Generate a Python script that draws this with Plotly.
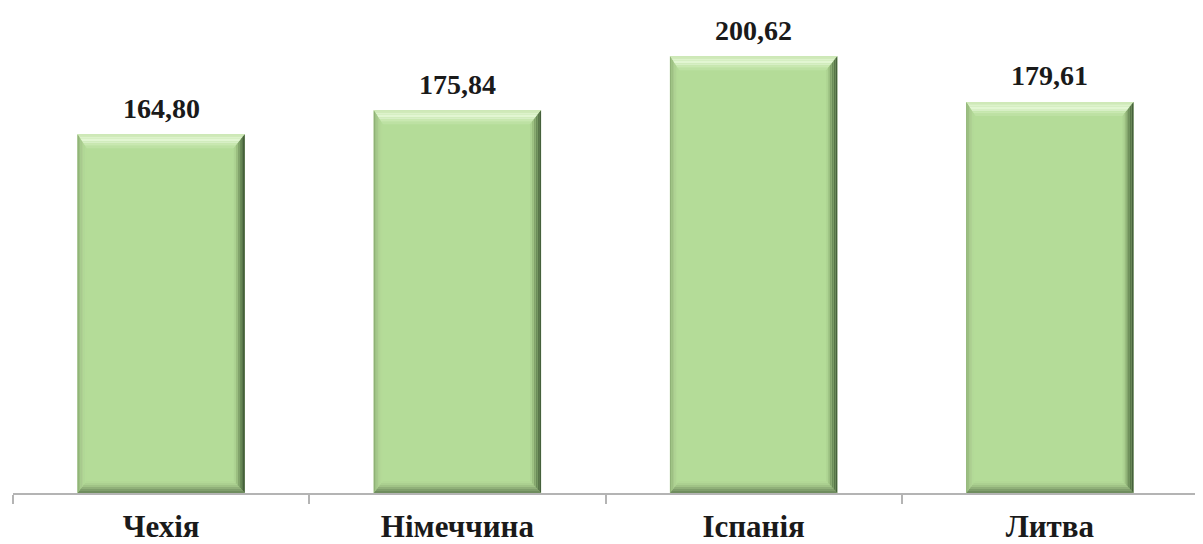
import plotly.graph_objects as go

categories = ["Чехія", "Німеччина", "Іспанія", "Литва"]
values = [164.80, 175.84, 200.62, 179.61]
value_labels = ["164,80", "175,84", "200,62", "179,61"]

# page has an 8px body margin: figure is sized to fit the 1203x544 window
W, H = 1195, 536
ML, MR, MT, MB = 5, 5, 6, 51
YMAX = 220
BAR_W = 0.565
plot_w = W - ML - MR
plot_h = H - MT - MB
px_x = plot_w / len(categories)   # pixels per x unit
px_y = plot_h / YMAX              # pixels per y unit

FACE = "#b4dc98"
TOP = ["#cfe9b8", "#ddf2cb", "#e2f6d2", "#d7efc5", "#c9e8b1", "#bde1a3"]
LEFT = ["#8fb176", "#9cbf82", "#a7c98d", "#aed193", "#b2d896", "#b4db98"]
RIGHT = ["#46603c", "#587649", "#6b8c59", "#83a46c", "#9bbf80", "#add392"]
BOTTOM = ["#6f8d5e", "#7f9e6b", "#90b079", "#a0c386", "#abd090", "#b2d896"]
WT, WL, WR, WB = 14, 9, 11, 12  # bevel widths in px
N = len(TOP)

fig = go.Figure()
xs = list(range(len(categories)))
fig.add_trace(go.Bar(x=xs, y=values, width=BAR_W,
                     marker=dict(color=FACE, line=dict(width=0)),
                     hoverinfo="skip"))

shapes = []


def poly(pts, color):
    d = "M " + " L ".join(f"{x:.5f},{y:.5f}" for x, y in pts) + " Z"
    shapes.append(dict(type="path", path=d, xref="x", yref="y",
                       fillcolor=color, line=dict(width=0), layer="above"))


for i, v in enumerate(values):
    L = i - BAR_W / 2
    R = i + BAR_W / 2
    T = v
    B = 0
    for j in range(N):
        aT, bT = j * WT / N / px_y, (j + 1) * WT / N / px_y
        aB, bB = j * WB / N / px_y, (j + 1) * WB / N / px_y
        aL, bL = j * WL / N / px_x, (j + 1) * WL / N / px_x
        aR, bR = j * WR / N / px_x, (j + 1) * WR / N / px_x
        # top
        poly([(L + aL, T - aT), (R - aR, T - aT), (R - bR, T - bT), (L + bL, T - bT)], TOP[j])
        # bottom
        poly([(L + aL, B + aB), (R - aR, B + aB), (R - bR, B + bB), (L + bL, B + bB)], BOTTOM[j])
        # left
        poly([(L + aL, T - aT), (L + bL, T - bT), (L + bL, B + bB), (L + aL, B + aB)], LEFT[j])
        # right
        poly([(R - aR, T - aT), (R - bR, T - bT), (R - bR, B + bB), (R - aR, B + aB)], RIGHT[j])

annotations = []
for i, (v, lab) in enumerate(zip(values, value_labels)):
    annotations.append(dict(x=i, y=v, xref="x", yref="y", text=lab, showarrow=False,
                            yanchor="middle", yshift=26,
                            font=dict(family="Liberation Serif", size=28, color="#1a1a1a", weight="bold")))

fig.update_layout(
    width=W, height=H,
    margin=dict(l=ML, r=MR, t=MT, b=MB, pad=0),
    paper_bgcolor="white", plot_bgcolor="white",
    showlegend=False,
    shapes=shapes,
    annotations=annotations,
    xaxis=dict(range=[-0.5, len(categories) - 0.5], tickvals=xs, ticktext=categories,
               ticks="", showgrid=False, zeroline=False, automargin=False,
               showline=True, linecolor="#b4b4b4", linewidth=1.5,
               ticklabelstandoff=5,
               tickfont=dict(family="Liberation Serif", size=31, color="#1a1a1a", weight="bold"),
               minor=dict(tickvals=[k - 0.5 for k in range(len(categories) + 1)],
                          ticks="outside", ticklen=9, tickcolor="#b4b4b4", tickwidth=1.5,
                          showgrid=False)),
    yaxis=dict(range=[0, YMAX], visible=False, showgrid=False, zeroline=False),
)

fig.write_html("out.html")
